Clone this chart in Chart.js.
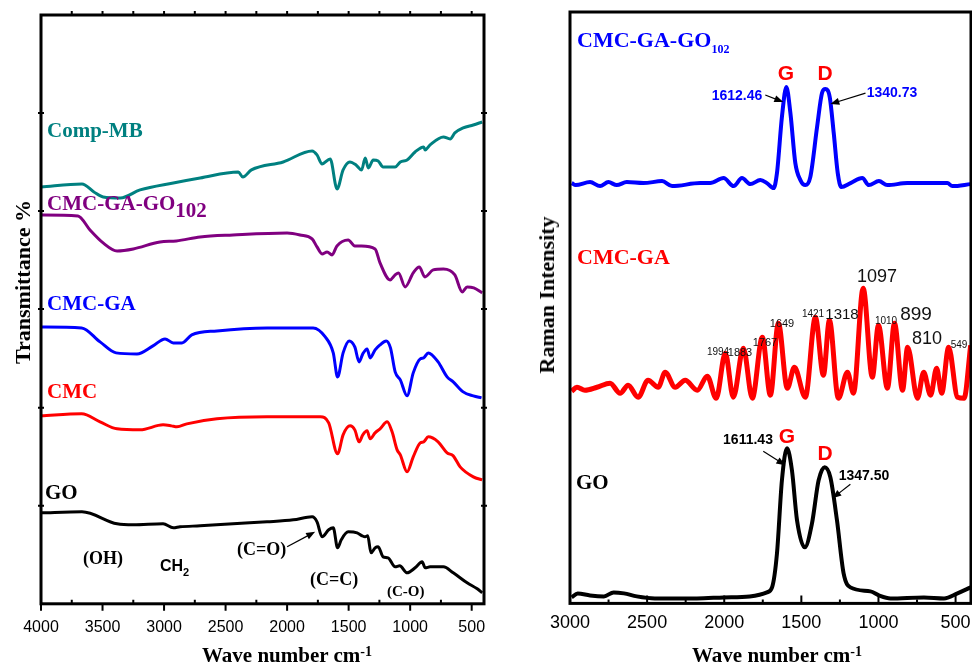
<!DOCTYPE html>
<html>
<head>
<meta charset="utf-8">
<script src="https://cdn.jsdelivr.net/npm/chart.js@4/dist/chart.umd.min.js"></script>
<style>
    body { margin: 0; background: #fff; }
    #wrap { position: relative; width: 972px; height: 665px; overflow: hidden; background: #fff; }
    canvas { position: absolute; top: 0; }
    #ftir { left: 0; }
    #raman { left: 490px; }
    .t { position: absolute; line-height: 1; white-space: nowrap; }
    .l { transform: translateY(-50%); }
    .c { transform: translate(-50%, -50%); }
    .v { transform: translate(-50%, -50%) rotate(-90deg); }
    .ser { font-family: "Liberation Serif", "Times New Roman", serif; font-weight: bold; }
    .san { font-family: "Liberation Sans", Arial, sans-serif; }
    .b { font-weight: bold; }
</style>
</head>
<body>
<div id="wrap">
    <canvas id="ftir" width="490" height="665"></canvas>
    <canvas id="raman" width="482" height="665"></canvas>

    <!-- FTIR panel labels -->
    <div class="t l ser" style="left:47px;top:130px;font-size:21px;color:#008080">Comp-MB</div>
    <div class="t l ser" style="left:47px;top:203px;font-size:21px;color:#800080">CMC-GA-GO<span style="position:relative;top:7px">102</span></div>
    <div class="t l ser" style="left:47px;top:303px;font-size:21px;color:#0000ff">CMC-GA</div>
    <div class="t l ser" style="left:47px;top:391px;font-size:21px;color:#ff0000">CMC</div>
    <div class="t l ser" style="left:45px;top:492px;font-size:21px;color:#000">GO</div>
    <div class="t c ser" style="left:103px;top:558px;font-size:18px">(OH)</div>
    <div class="t l san b" style="left:160px;top:566px;font-size:16px">CH<span style="font-size:11px;position:relative;top:5px">2</span></div>
    <div class="t l ser" style="left:237px;top:549px;font-size:18px">(C=O)</div>
    <div class="t l ser" style="left:310px;top:579px;font-size:18px">(C=C)</div>
    <div class="t l ser" style="left:387px;top:591px;font-size:15px">(C-O)</div>
    <div class="t v ser" style="left:23px;top:282px;font-size:22px">Transmittance %</div>
    <div class="t c ser" style="left:287px;top:655px;font-size:21px">Wave number cm<span style="font-size:14px;position:relative;top:-6px">-1</span></div>

    <!-- Raman panel labels -->
    <div class="t l ser" style="left:577px;top:40px;font-size:22px;color:#0000ff">CMC-GA-GO<span style="font-size:12px;position:relative;top:6px">102</span></div>
    <div class="t c san b" style="left:786px;top:72px;font-size:21px;color:#ff0000">G</div>
    <div class="t c san b" style="left:825px;top:72px;font-size:21px;color:#ff0000">D</div>
    <div class="t c san b" style="left:737px;top:95px;font-size:14px;color:#0000ff">1612.46</div>
    <div class="t c san b" style="left:892px;top:92px;font-size:14px;color:#0000ff">1340.73</div>
    <div class="t l ser" style="left:577px;top:257px;font-size:22px;color:#ff0000">CMC-GA</div>
    <div class="t c san" style="left:877px;top:276px;font-size:18px;color:#111">1097</div>
    <div class="t c san" style="left:842px;top:313px;font-size:15px;color:#111">1318</div>
    <div class="t c san" style="left:813px;top:314px;font-size:10px;color:#111">1421</div>
    <div class="t c san" style="left:782px;top:323px;font-size:11px;color:#111">1649</div>
    <div class="t c san" style="left:886px;top:321px;font-size:10px;color:#111">1010</div>
    <div class="t c san" style="left:916px;top:313px;font-size:19px;color:#111">899</div>
    <div class="t c san" style="left:927px;top:338px;font-size:18px;color:#111">810</div>
    <div class="t c san" style="left:959px;top:345px;font-size:10px;color:#111">549</div>
    <div class="t c san" style="left:765px;top:342px;font-size:11px;color:#111">1767</div>
    <div class="t c san" style="left:740px;top:352px;font-size:11px;color:#111">1883</div>
    <div class="t c san" style="left:718px;top:352px;font-size:10px;color:#111">1994</div>
    <div class="t l ser" style="left:576px;top:482px;font-size:21px;color:#000">GO</div>
    <div class="t c san b" style="left:748px;top:439px;font-size:14px">1611.43</div>
    <div class="t c san b" style="left:787px;top:435px;font-size:21px;color:#ff0000">G</div>
    <div class="t c san b" style="left:825px;top:452px;font-size:21px;color:#ff0000">D</div>
    <div class="t c san b" style="left:864px;top:475px;font-size:14px">1347.50</div>
    <div class="t v ser" style="left:547px;top:295px;font-size:22px">Raman Intensity</div>
    <div class="t c ser" style="left:777px;top:655px;font-size:21px">Wave number cm<span style="font-size:14px;position:relative;top:-6px">-1</span></div>
</div>

<script>
// ========== FTIR DATA (wavenumber, transmittance a.u., offset stacked) ==========
const ftirTicks = [4000, 3500, 3000, 2500, 2000, 1500, 1000, 500];
const ftirMinor = [3750, 3250, 2750, 2250, 1750, 1250, 750];

const goWn = [4000, 3667, 3382, 3250, 3008, 2925, 2870, 2707, 2439, 2163, 1950, 1797, 1757, 1716, 1662, 1625, 1590, 1560, 1504, 1431, 1390, 1366, 1345, 1318, 1285, 1260, 1220, 1180, 1122, 1085, 1025, 960, 903, 878, 838, 730, 650, 537, 455, 415];
const goT = [91, 92, 80, 79, 80, 76, 77, 78, 80, 82, 84, 87, 82, 67, 74, 76, 56, 64, 72, 71, 68, 67, 68, 51, 56, 57, 47, 46, 37, 38, 31, 36, 42, 36, 37, 37, 31, 21, 15, 11];

const cmcWn = [4000, 3670, 3520, 3382, 3195, 3008, 2940, 2895, 2815, 2570, 2163, 1730, 1662, 1590, 1545, 1488, 1450, 1415, 1385, 1350, 1325, 1285, 1245, 1187, 1147, 1106, 1080, 1025, 975, 918, 890, 853, 773, 700, 650, 594, 487, 415];
const cmcT = [188, 190, 182, 175, 174, 179, 178, 177, 180, 185, 187, 187, 181, 150, 169, 178, 174, 162, 169, 173, 165, 171, 175, 182, 172, 154, 149, 132, 147, 161, 162, 167, 162, 151, 148, 137, 127, 124];

const cmcGaWn = [4000, 3670, 3520, 3390, 3220, 3090, 2992, 2925, 2855, 2775, 2570, 2163, 1789, 1690, 1625, 1590, 1545, 1496, 1450, 1415, 1385, 1350, 1325, 1285, 1245, 1195, 1160, 1122, 1080, 1025, 975, 918, 890, 853, 773, 700, 650, 569, 487, 420];
const cmcGaT = [277, 276, 262, 251, 250, 258, 265, 261, 261, 269, 273, 276, 276, 267, 251, 227, 251, 263, 257, 242, 250, 255, 246, 254, 259, 263, 256, 232, 224, 208, 231, 245, 246, 251, 242, 227, 222, 212, 208, 206];

const cmcGaGoWn = [4000, 3700, 3602, 3495, 3382, 3250, 3033, 2900, 2707, 2440, 2000, 1895, 1797, 1757, 1716, 1675, 1635, 1595, 1504, 1450, 1395, 1285, 1245, 1163, 1122, 1095, 1041, 975, 926, 880, 813, 730, 637, 577, 537, 483, 415];
const cmcGaGoT = [389, 388, 374, 361, 353, 355, 362, 363, 367, 369, 371, 369, 365, 357, 350, 352, 349, 358, 364, 358, 358, 355, 341, 324, 329, 331, 317, 331, 337, 327, 334, 335, 329, 312, 317, 316, 311];

const compMbWn = [4000, 3667, 3570, 3495, 3355, 3195, 2925, 2707, 2397, 2360, 2290, 2032, 1797, 1757, 1716, 1650, 1594, 1545, 1490, 1440, 1395, 1365, 1340, 1300, 1260, 1220, 1122, 1080, 1025, 960, 890, 878, 838, 730, 675, 637, 569, 487, 415];
const compMbT = [417, 420, 412, 407, 406, 414, 421, 426, 432, 427, 434, 442, 453, 449, 440, 445, 415, 434, 442, 439, 434, 446, 436, 444, 443, 437, 437, 442, 444, 452, 457, 454, 459, 467, 465, 471, 476, 479, 482];

// ========== RAMAN DATA (wavenumber, intensity a.u., offset stacked) ==========
const ramanTicks = [3000, 2500, 2000, 1500, 1000, 500];
const ramanMinor = [2750, 2250, 1750, 1250, 750];

const rGoWn = [2989, 2950, 2870, 2780, 2717, 2650, 2567, 2450, 2177, 2004, 1835, 1723, 1690, 1658, 1626, 1593, 1561, 1528, 1478, 1431, 1388, 1349, 1312, 1269, 1226, 1182, 1052, 997, 922, 705, 575, 488, 402];
const rGoI = [6, 10, 8, 7, 11, 10, 7, 5, 5, 6, 7, 11, 16, 50, 123, 155, 133, 83, 56, 80, 123, 136, 126, 83, 30, 16, 12, 8, 5, 6, 5, 10, 16];

const rCmcGaWn = [2989, 2955, 2903, 2825, 2740, 2675, 2623, 2558, 2494, 2428, 2383, 2318, 2253, 2175, 2110, 2052, 1993, 1941, 1876, 1818, 1753, 1701, 1649, 1591, 1545, 1474, 1409, 1357, 1318, 1260, 1201, 1162, 1099, 1040, 1000, 942, 896, 844, 811, 747, 707, 662, 623, 590, 545, 487, 445, 402];
const rCmcGaI = [212, 216, 213, 216, 220, 210, 218, 206, 223, 216, 231, 216, 223, 213, 227, 205, 250, 206, 255, 205, 266, 208, 280, 215, 236, 206, 286, 228, 283, 205, 231, 210, 315, 226, 278, 215, 280, 213, 256, 205, 231, 208, 235, 210, 256, 206, 205, 258];

const rCmcGaGoWn = [2989, 2963, 2870, 2805, 2751, 2697, 2632, 2524, 2403, 2338, 2156, 2091, 2004, 1939, 1885, 1831, 1766, 1723, 1680, 1658, 1626, 1597, 1571, 1539, 1506, 1474, 1442, 1398, 1366, 1344, 1316, 1290, 1264, 1241, 1181, 1105, 1062, 997, 943, 813, 640, 553, 521, 402];
const rCmcGaGoI = [420, 418, 421, 417, 421, 418, 421, 420, 422, 417, 420, 420, 425, 417, 425, 419, 423, 420, 415, 430, 486, 516, 490, 440, 423, 418, 426, 476, 510, 514, 506, 470, 430, 416, 420, 425, 418, 422, 418, 420, 420, 420, 417, 419];

// ========== HELPERS ==========
function pairs(xs, ys) {
    return xs.map((x, i) => ({ x: x, y: ys[i] }));
}

function series(xs, ys, color, width) {
    return {
        data: pairs(xs, ys),
        borderColor: color,
        borderWidth: width,
        pointRadius: 0,
        fill: false,
        cubicInterpolationMode: "monotone"
    };
}

// tick list entry: [value, from offset, to offset] measured from the bottom / top edge (+ = into the plot)
function drawXTicks(ctx, xs, list, edge, dir) {
    list.forEach(t => {
        const x = xs.getPixelForValue(t[0]);
        ctx.moveTo(x, edge + dir * t[1]);
        ctx.lineTo(x, edge + dir * t[2]);
    });
}

// Tick marks under the curves, frame and arrows on top
const decorPlugin = {
    id: "decor",
    beforeDatasetsDraw(chart, args, o) {
        const ctx = chart.ctx;
        const a = chart.chartArea;
        const xs = chart.scales.x;
        const ys = chart.scales.y;
        ctx.save();
        ctx.strokeStyle = "#000";
        ctx.lineWidth = 2;
        ctx.beginPath();
        drawXTicks(ctx, xs, o.bottomTicks || [], a.bottom, -1);
        drawXTicks(ctx, xs, o.topTicks || [], a.top, 1);
        (o.sideTicks || []).forEach(v => {
            const y = ys.getPixelForValue(v);
            ctx.moveTo(a.left - 3, y);
            ctx.lineTo(a.left + 3, y);
            ctx.moveTo(a.right - 3, y);
            ctx.lineTo(a.right + 3, y);
        });
        ctx.stroke();
        ctx.restore();
    },
    afterDatasetsDraw(chart, args, o) {
        const ctx = chart.ctx;
        const a = chart.chartArea;
        const xs = chart.scales.x;
        const ys = chart.scales.y;
        ctx.save();
        ctx.strokeStyle = "#000";
        ctx.lineWidth = 3;
        ctx.strokeRect(a.left, a.top, a.right - a.left, a.bottom - a.top);

        (o.arrows || []).forEach(ar => {
            const x1 = xs.getPixelForValue(ar[0]);
            const y1 = ys.getPixelForValue(ar[1]);
            const x2 = xs.getPixelForValue(ar[2]);
            const y2 = ys.getPixelForValue(ar[3]);
            const ang = Math.atan2(y2 - y1, x2 - x1);
            ctx.lineWidth = 1.2;
            ctx.beginPath();
            ctx.moveTo(x1, y1);
            ctx.lineTo(x2 - 6 * Math.cos(ang), y2 - 6 * Math.sin(ang));
            ctx.stroke();
            ctx.beginPath();
            ctx.moveTo(x2, y2);
            ctx.lineTo(x2 - 9 * Math.cos(ang) + 3.5 * Math.sin(ang), y2 - 9 * Math.sin(ang) - 3.5 * Math.cos(ang));
            ctx.lineTo(x2 - 9 * Math.cos(ang) - 3.5 * Math.sin(ang), y2 - 9 * Math.sin(ang) + 3.5 * Math.cos(ang));
            ctx.closePath();
            ctx.fillStyle = "#000";
            ctx.fill();
        });
        ctx.restore();
    }
};

function buildOptions(cfg) {
    return {
        responsive: false,
        animation: false,
        maintainAspectRatio: false,
        layout: { padding: cfg.padding },
        plugins: {
            legend: { display: false },
            tooltip: { enabled: false },
            decor: cfg.decor
        },
        scales: {
            x: {
                type: "linear",
                reverse: true,
                min: cfg.xMin,
                max: cfg.xMax,
                // transparent tick marks only to push the labels down
                grid: {
                    display: true,
                    drawOnChartArea: false,
                    drawTicks: true,
                    tickLength: cfg.tickGap,
                    color: "rgba(0,0,0,0)"
                },
                border: { display: false },
                afterBuildTicks: function (scale) {
                    scale.ticks = cfg.ticks.map(v => ({ value: v }));
                },
                ticks: {
                    autoSkip: false,
                    maxRotation: 0,
                    padding: 0,
                    color: "#000",
                    font: { family: "Liberation Sans", size: cfg.tickSize },
                    callback: function (value) {
                        return String(value);
                    }
                }
            },
            y: { display: false, min: 0, max: cfg.yMax }
        }
    };
}

// ========== FTIR CHART ==========
new Chart(document.getElementById("ftir").getContext("2d"), {
    type: "line",
    data: {
        datasets: [
            series(goWn, goT, "#000000", 3),
            series(cmcWn, cmcT, "#ff0000", 3),
            series(cmcGaWn, cmcGaT, "#0000ff", 3),
            series(cmcGaGoWn, cmcGaGoT, "#800080", 3),
            series(compMbWn, compMbT, "#008080", 3)
        ]
    },
    options: buildOptions({
        padding: { left: 41, right: 6, top: 15, bottom: 28 },
        xMin: 400, xMax: 4000, yMax: 589,
        ticks: ftirTicks, tickGap: 14, tickSize: 16,
        decor: {
            bottomTicks: ftirMinor.map(v => [v, 0, 4]).concat(ftirTicks.map(v => [v, 0, -7])),
            topTicks: ftirMinor.concat(ftirTicks.slice(1)).map(v => [v, 0, -4]),
            sideTicks: [98, 196, 295, 393, 491],
            arrows: [[2000, 57, 1772, 72]]
        }
    }),
    plugins: [decorPlugin]
});

// ========== RAMAN CHART ==========
new Chart(document.getElementById("raman").getContext("2d"), {
    type: "line",
    data: {
        datasets: [
            series(rGoWn, rGoI, "#000000", 4),
            series(rCmcGaWn, rCmcGaI, "#ff0000", 5),
            series(rCmcGaGoWn, rCmcGaGoI, "#0000ff", 4)
        ]
    },
    options: buildOptions({
        padding: { left: 80, right: 1, top: 12, bottom: 31 },
        xMin: 400, xMax: 3000, yMax: 591,
        ticks: ramanTicks, tickGap: 9, tickSize: 18,
        decor: {
            bottomTicks: ramanMinor.map(v => [v, 0, 4]).concat(ramanTicks.map(v => [v, 0, 8])),
            arrows: [
                [1734, 508, 1617, 501],
                [1084, 510, 1312, 499],
                [1747, 152, 1604, 138],
                [1182, 119, 1299, 105]
            ]
        }
    }),
    plugins: [decorPlugin]
});
</script>
</body>
</html>
